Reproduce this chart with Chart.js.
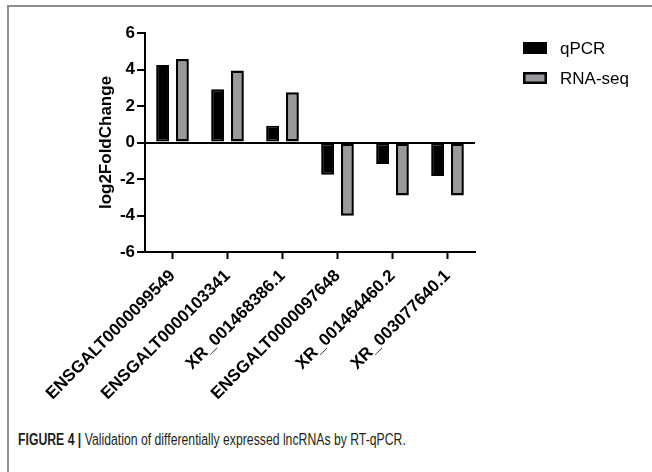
<!DOCTYPE html>
<html>
<head>
<meta charset="utf-8">
<script src="https://cdn.jsdelivr.net/npm/chart.js@4.4.0/dist/chart.umd.min.js"></script>
<style>
  html, body { margin: 0; padding: 0; background: #fff; }
  #wrap { position: relative; width: 652px; height: 472px; overflow: hidden; background: #fff; }
  #frame { position: absolute; left: 7px; top: 5px; width: 700px; height: 520px;
           border-left: 2px solid #8e8e8e; border-top: 2px solid #8e8e8e; }
  #graph { position: absolute; left: 0; top: 0; }
  #caption { position: absolute; left: 18px; top: 431px; white-space: nowrap; color: #231f20;
             font-family: "Liberation Sans", Arial, sans-serif; font-size: 16px;
             transform: scaleX(0.765); transform-origin: 0 0; }
  #caption b { font-weight: bold; }
</style>
</head>
<body>
<div id="wrap">
  <div id="frame"></div>
  <canvas id="graph" width="652" height="420"></canvas>
  <div id="caption"><b>FIGURE 4 |</b> Validation of differentially expressed lncRNAs by RT-qPCR.</div>
</div>
<script>
'use strict';

// 遺伝子名
const categories = ['ENSGALT0000099549', 'ENSGALT0000103341', 'XR_001468386.1',
                    'ENSGALT0000097648', 'XR_001464460.2', 'XR_003077640.1'];
const qpcrValues = [4.25, 2.92, 0.92, -1.77, -1.18, -1.83];
const rnaSeqValues = [4.57, 3.95, 2.75, -4.02, -2.9, -2.9];
const seriesNames = ['qPCR', 'RNA-seq'];
const yMin = -6, yMax = 6, yStep = 2;

const axisFont = { family: '"Liberation Sans", Arial, sans-serif', size: 17, weight: 'bold' };

// 凡例 (右上)
const legendPlugin = {
    id: 'sideLegend',
    afterDraw(chart) {
        const ctx = chart.ctx;
        const area = chart.chartArea;
        ctx.save();
        chart.data.datasets.forEach((ds, i) => {
            const x = area.right + 48;
            const cy = area.top + 15 + i * 30;
            ctx.fillStyle = ds.backgroundColor;
            ctx.fillRect(x, cy - 6, 24, 12);
            ctx.lineWidth = 2.5;
            ctx.strokeStyle = '#000';
            ctx.strokeRect(x + 1.25, cy - 4.75, 21.5, 9.5);
            ctx.fillStyle = '#000';
            ctx.font = '17px "Liberation Sans", Arial, sans-serif';
            ctx.textBaseline = 'middle';
            ctx.fillText(ds.label, x + 37, cy + 1);
        });
        ctx.restore();
    }
};

window.onload = function () {
    let context_bar = document.querySelector('#graph').getContext('2d');
    new Chart(context_bar, {
        type: 'bar',
        data: {
            labels: categories,
            datasets: [{
                label: seriesNames[0],
                data: qpcrValues,
                backgroundColor: '#000000',
                borderColor: '#000000',
                borderWidth: 2,
                borderSkipped: false
            }, {
                label: seriesNames[1],
                data: rnaSeqValues,
                backgroundColor: '#9a9a9c',
                borderColor: '#000000',
                borderWidth: 2.5,
                borderSkipped: false
            }]
        },
        options: {
            responsive: false,
            animation: false,
            categoryPercentage: 0.72,
            barPercentage: 0.65,
            layout: { padding: { left: 70, top: 33, right: 177, bottom: 0 } },
            plugins: {
                legend: { display: false },
                tooltip: { enabled: false }
            },
            scales: {
                x: {
                    afterFit(scale) { scale.height = 168; },
                    border: { display: true, color: '#000', width: 2 },
                    grid: {
                        offset: false,
                        drawOnChartArea: false,
                        drawTicks: true,
                        tickLength: 7,
                        tickColor: '#000',
                        tickWidth: 2
                    },
                    ticks: {
                        autoSkip: false,
                        minRotation: 45,
                        maxRotation: 45,
                        padding: 7,
                        color: '#000',
                        font: axisFont
                    }
                },
                y: {
                    min: yMin,
                    max: yMax,
                    afterFit(scale) { scale.width = 75; },
                    border: { display: true, color: '#000', width: 2 },
                    grid: {
                        color: (c) => (c.tick && c.tick.value === 0 ? '#000' : 'rgba(0,0,0,0)'),
                        lineWidth: 2,
                        tickLength: 8,
                        tickColor: '#000',
                        tickWidth: 2
                    },
                    ticks: {
                        stepSize: yStep,
                        padding: 2,
                        color: '#000',
                        font: axisFont
                    },
                    title: {
                        display: true,
                        text: 'log2FoldChange',
                        color: '#000',
                        font: axisFont,
                        padding: { top: 26, bottom: 0 }
                    }
                }
            }
        },
        plugins: [legendPlugin]
    });
};
</script>
</body>
</html>
